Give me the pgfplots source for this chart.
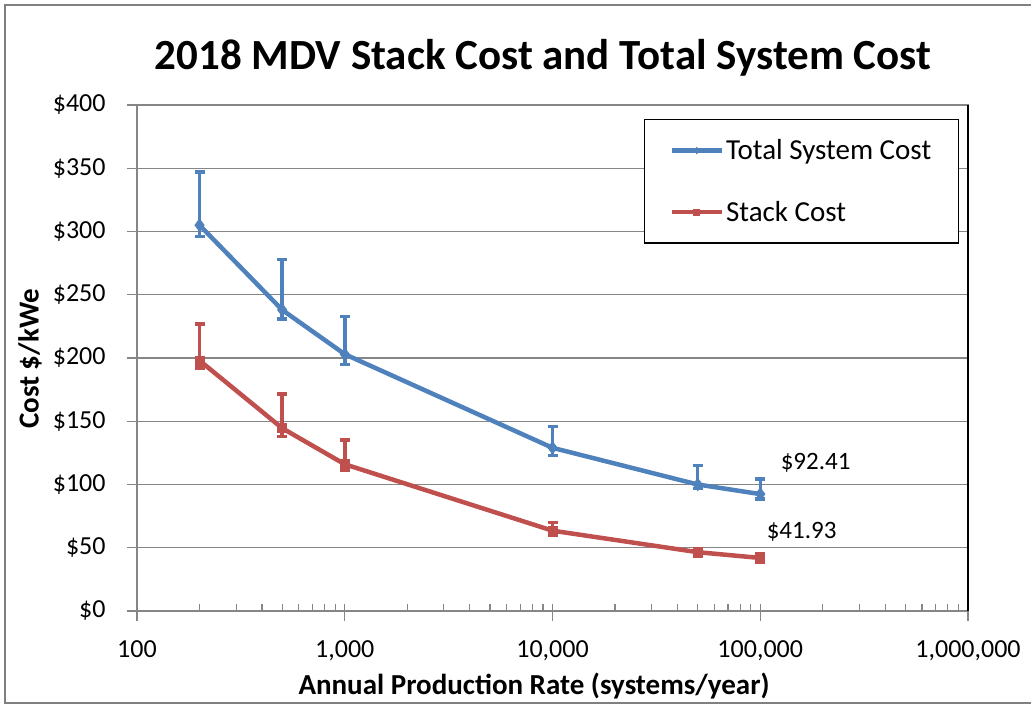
\documentclass[border=0pt]{standalone}
\usepackage{pgfplots}
\usepackage{pgfplotstable}
\pgfplotsset{compat=1.18}
\usepackage{fontspec}
\setmainfont{Carlito}
\definecolor{totalblue}{HTML}{4F81BD}
\definecolor{stackred}{HTML}{C0504D}
\definecolor{gridgray}{HTML}{868686}

% production rate, cost, error plus, error minus
\pgfplotstableread{
x      y      ep    em
200    305    42    9
500    238    40    7
1000   203    30    8
10000  129    17    6
50000  100    15    3
100000 92.41  12    4
}\totaldata
\pgfplotstableread{
x      y      ep    em
200    198    29    6
500    144.5  27    6.5
1000   116    19    5
10000  63.5   6.5   4
50000  46.5   2.5   3
100000 41.93  3     3
}\stackdata

\begin{document}
\begin{tikzpicture}
\useasboundingbox (0,0) rectangle (1031pt,705pt);
% chart area border
\draw[gray, line width=2pt] (1040pt,700pt) -- (5pt,700pt) -- (5pt,2pt) -- (1040pt,2pt);

\begin{axis}[
    at={(137pt,94pt)}, anchor=south west,
    scale only axis, width=831pt, height=506pt,
    xmode=log, xmin=100, xmax=1000000,
    ymin=0, ymax=400,
    xtick={100,1000,10000,100000,1000000},
    xticklabels={100,{1,000},{10,000},{100,000},{1,000,000}},
    ytick={0,50,...,400},
    yticklabels={\$0,\$50,\$100,\$150,\$200,\$250,\$300,\$350,\$400},
    xtick pos=bottom, ytick pos=left,
    tick align=outside,
    major tick length=10pt, minor tick length=7pt,
    minor x tick style={yshift=7pt},
    tick style={gridgray, line width=1.2pt},
    axis line style={gridgray, line width=1.2pt},
    ymajorgrids=true, xmajorgrids=false, xminorgrids=false,
    grid style={gridgray, line width=1.2pt},
    tick label style={font=\fontsize{26pt}{30pt}\selectfont, text=black},
    xticklabel style={yshift=-16pt},
    yticklabel style={xshift=-18pt},
    legend style={at={(rel axis cs:0.989,0.972)}, anchor=north east,
        draw=black, line width=1.2pt, font=\fontsize{29pt}{34pt}\selectfont,
        row sep=36pt, inner xsep=25pt, inner ysep=18pt,
        cells={anchor=west}},
    legend image code/.code={\draw[mark repeat=2,mark phase=2,#1,mark size=3pt]
        plot coordinates {(0pt,0pt)(25pt,0pt)(50pt,0pt)};},
    clip=false,
]
\addplot[totalblue, line width=4.5pt, mark=diamond*, mark size=6pt,
    mark options={line width=1pt},
    error bars/.cd, y dir=both, y explicit, error mark=|,
    error bar style={line width=3.5pt, totalblue},
    error mark options={line width=3.5pt, mark size=5pt, totalblue}]
    table[x=x, y=y, y error plus=ep, y error minus=em] {\totaldata};
\addlegendentry{Total System Cost}
\addplot[stackred, line width=4.5pt, mark=square*, mark size=4.5pt,
    mark options={line width=1pt},
    error bars/.cd, y dir=both, y explicit, error mark=|,
    error bar style={line width=3.5pt, stackred},
    error mark options={line width=3.5pt, mark size=5pt, stackred}]
    table[x=x, y=y, y error plus=ep, y error minus=em] {\stackdata};
\addlegendentry{Stack Cost}

\node[anchor=west, font=\fontsize{25pt}{29pt}\selectfont, xshift=17pt, yshift=31pt]
    at (axis cs:100000,92.41) {\$92.41};
\node[anchor=west, font=\fontsize{25pt}{29pt}\selectfont, xshift=3pt, yshift=26pt]
    at (axis cs:100000,41.93) {\$41.93};
\draw[black, line width=1.5pt] (rel axis cs:1,0) -- (rel axis cs:1,1);
\end{axis}

\node[font=\bfseries\fontsize{43pt}{48pt}\selectfont] at (543pt,647pt)
    {2018 MDV Stack Cost and Total System Cost};
\node[font=\bfseries\fontsize{29pt}{34pt}\selectfont] at (534pt,19pt)
    {Annual Production Rate (systems/year)};
\node[rotate=90, font=\bfseries\fontsize{29pt}{34pt}\selectfont] at (30pt,346pt)
    {Cost \$/kWe};
\end{tikzpicture}
\end{document}
